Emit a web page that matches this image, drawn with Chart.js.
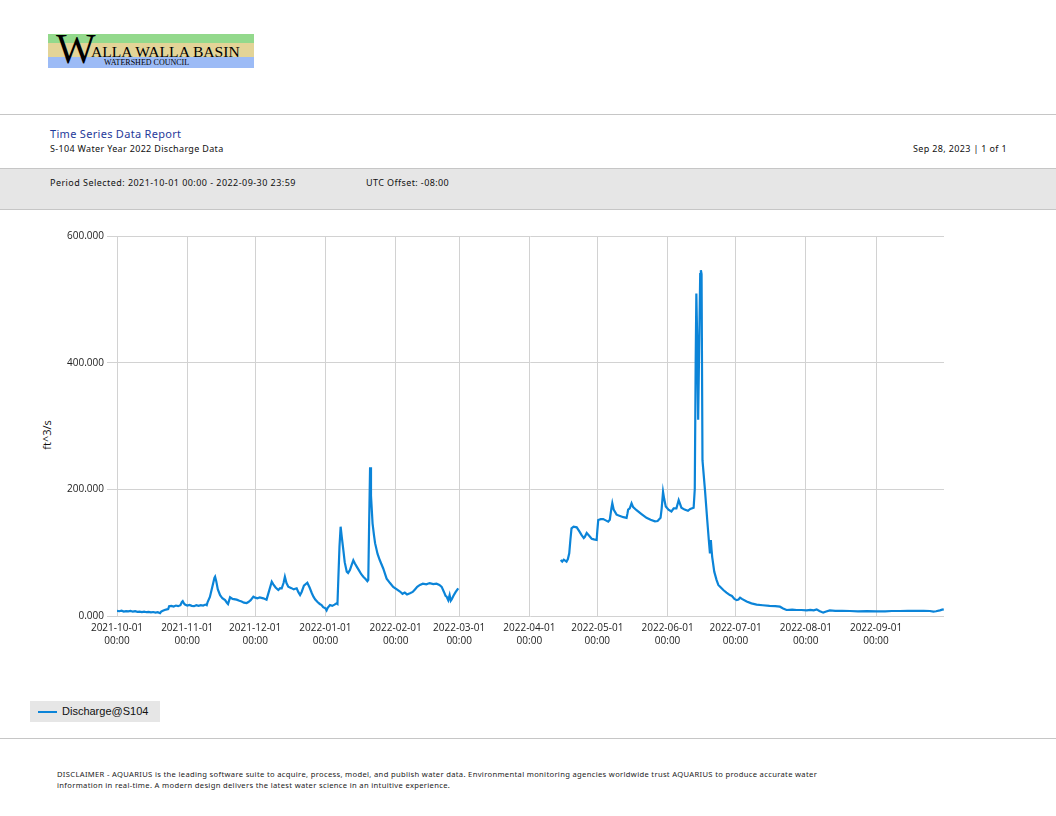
<!DOCTYPE html>
<html>
<head>
<meta charset="utf-8">
<script src="https://cdn.jsdelivr.net/npm/chart.js@4.4.0/dist/chart.umd.min.js"></script>
<style>
  html, body { margin:0; padding:0; background:#fff; }
  body { width:1056px; height:816px; position:relative; overflow:hidden; font-family:"Noto Sans", "Open Sans", sans-serif; }
  .abs { position:absolute; white-space:nowrap; }
  .hline { position:absolute; left:0; width:1056px; height:1px; background:#c6c6c6; }
</style>
</head>
<body>
<script>
// ---- Data (days since 2021-10-01 00:00, water-year 2022) ----
const seriesName = "Discharge@S104";
const unitLabel = "ft^3/s";
const tickLabels = ["2021-10-01","2021-11-01","2021-12-01","2022-01-01","2022-02-01","2022-03-01",
                    "2022-04-01","2022-05-01","2022-06-01","2022-07-01","2022-08-01","2022-09-01"];
const yTicks = [0, 200, 400, 600];
const dayOffsets = [
  0,1,2,3,4,5,6,7,8,9,10,11,12,13,14,15,16,17,18,19,19.5,20,21,22,22.6,23,24,25,26,27,28,28.6,29,29.5,30,31,
  32,33,34,35,36,37,38,39,39.6,40,41,42,43,43.3,43.8,44.5,45.5,46.5,47.7,48.5,49,49.9,51,52.8,54,55,56,57.2,58,59,
  60.2,61,62,63,64.6,66,67,68.3,69,70,71.2,72,72.7,73.5,74.1,74.8,75.6,77,78,79.3,80,80.8,81.5,82.5,84,85,86,86.7,
  87.5,88.5,89.5,90.3,91,92,92.5,93,94,95,96,96.9,97.3,97.7,98.2,98.7,99.2,99.9,100.5,101.4,102,102.8,103.5,104.3,
  105,105.8,106.8,107.8,108.7,109.8,110.5,110.9,111.3,111.7,112.1,112.8,113.4,113.9,115,116,117.5,119,120.5,121.9,
  123.5,124.9,126,127,128,129.3,130.5,131.5,132.5,133.7,135,136.5,138,139.6,141,142.3,143.3,144.3,145,145.5,146.2,
  146.8,147.3,147.7,148.5,149.5,150.6,
  173,
  195.8,196.5,197.2,198.4,199,199.6,200.1,200.6,201.5,202.9,204,205,206,206.5,207.3,208.3,209.5,210.5,211.7,212,
  212.4,213.5,214.6,215.7,216.8,217.5,218.2,218.6,219.2,220.5,222,223.5,224.9,225.3,225.6,226.3,227.1,227.8,229.3,
  231.5,233.7,235.5,237.4,238.6,239.9,240.4,241,241.5,242.2,243.4,244.7,245.7,246.9,247.9,249.1,250.5,252,253,254.5,
  255,255.4,255.7,256.1,256.5,257,257.4,257.7,258,258.4,259.5,260.5,261.2,261.7,262.1,262.4,262.7,263.6,264.6,265.4,
  266.5,267.6,269,270.5,271.4,272.5,273.5,274.3,275,275.8,277.9,280,282.3,285,288,290.5,292.6,294,295.5,298,300,302,
  304.4,306,307.5,308.8,310,311.7,313,314.6,317,320,323.5,327,331,335.3,339,342,345.5,349,352,356,358.8,360.3,361.5,
  363.2,364.2,364.9
];
const discharge = [
  8,7.5,8.5,7,7.8,7.2,8,6.8,7.5,6.5,7,6.2,6.8,6,6.5,5.8,6.3,5.5,6,4.5,7,8,9.5,10.5,11,15.5,16,15,16.5,15.5,17,22,23.5,20,18,16.5,
  17.5,16,15.5,17,16,17,16.5,18,17,22,30,45,60,62,55,42,33,28,25,21,19,29.5,27,25.8,24,23,21,20.5,22,25,
  30.5,29,28,29.5,27.9,25.8,38,54.2,50,45,41,44,43.7,52,62,52,46.3,44,42,43.7,38,33.2,38,48,52.6,45,36,30.5,
  26,22,19,17.4,14,12,9,13,17.4,16,18,20,19,60,110,141,125,104,85,70,68,72.6,80,88,
  83,78,72,66,62,58,55,57,150,235,190,146,128,115,98,88,75,59,52,46,
  42,38.6,35,37,34,36,38,42,46,49,51,50,52,50.5,51,49,46,38,32,30.5,25,
  33,24,26,32,38,43.7,
  null,
  88.4,86,89,86,90,99,120,138.5,141,140,134,128,123,125,131,127,122,121,120,135,
  151.6,153,153,151,149,152,170,178,168,160,158,156,155,162,168,170,178,172,167,
  161,155,152,149.5,150,155,170,196,185,173,168,165,170,170,183,171,168,166,169,171,
  200,400,509,430,310,440,540,546,540,246,199,151.6,120,99,120,105,93,70,57,49,
  45,41,37,33,31.6,27,25,26,29,27,23,20,18,17,16,15.5,14.7,12,9.5,10,9.5,9.5,
  8.9,9.8,9,10.5,8,5.3,7,8.9,8.2,8,7.9,7.2,7.8,7.4,7.3,7.9,7.9,8.3,8,8.2,7.9,6.9,7.5,
  8.9,10,10.5
];
</script>

<!-- Logo -->
<div class="abs" style="left:48px;top:34px;width:206px;height:9px;background:#93d98c;"></div>
<div class="abs" style="left:48px;top:43px;width:206px;height:14px;background:#e3d497;"></div>
<div class="abs" style="left:48px;top:57px;width:206px;height:11px;background:#9cbbf6;"></div>
<div class="abs" style="left:56px;top:28px;font-family:'Liberation Serif',serif;font-size:42px;line-height:42px;color:#000;">W</div>
<div class="abs" style="left:91px;top:43px;font-family:'Liberation Serif',serif;font-size:15.6px;line-height:17px;color:#000;">ALLA WALLA BASIN</div>
<div class="abs" style="left:104px;top:58px;font-family:'Liberation Serif',serif;font-size:8px;line-height:9px;color:#000;">WATERSHED COUNCIL</div>

<div class="hline" style="top:114px;"></div>

<!-- Header -->
<div class="abs" style="left:50px;top:127px;font-size:11px;line-height:14px;color:#1f3a9a;letter-spacing:0.3px;">Time Series Data Report</div>
<div class="abs" style="left:50px;top:143px;font-size:9px;line-height:12px;color:#111;letter-spacing:0.33px;">S-104 Water Year 2022 Discharge Data</div>
<div class="abs" style="right:49px;top:143px;font-size:9px;line-height:12px;color:#111;letter-spacing:0.35px;">Sep 28, 2023 | 1 of 1</div>

<div class="abs" style="left:0;top:168px;width:1056px;height:42px;background:#e6e6e6;border-top:1px solid #c6c6c6;border-bottom:1px solid #c6c6c6;box-sizing:border-box;"></div>
<div class="abs" style="left:50px;top:177px;font-size:9px;line-height:12px;color:#111;letter-spacing:0.45px;">Period Selected: 2021-10-01 00:00 - 2022-09-30 23:59</div>
<div class="abs" style="left:366px;top:177px;font-size:9px;line-height:12px;color:#111;letter-spacing:0.4px;">UTC Offset: -08:00</div>

<!-- Y axis title -->
<div class="abs" style="left:46px;top:435px;transform:translate(-50%,-50%) rotate(-90deg);font-family:'Open Sans',sans-serif;font-size:11px;color:#111;">ft^3/s</div>

<!-- Chart -->
<div class="abs" style="left:0;top:226px;width:1056px;height:440px;">
  <canvas id="c"></canvas>
</div>

<!-- Legend -->
<div class="abs" style="left:30px;top:701px;width:130px;height:21px;background:#e6e6e6;"></div>
<div class="abs" style="left:38px;top:711px;width:19px;height:2px;background:#0b84d8;"></div>
<div class="abs" style="left:62px;top:704px;font-family:'Liberation Sans',Arial,sans-serif;font-size:11px;line-height:14px;color:#111;" id="legendText"></div>

<div class="hline" style="top:738px;"></div>

<!-- Disclaimer -->
<div class="abs" style="left:57px;top:769px;font-size:7.6px;line-height:11px;color:#222;letter-spacing:0.33px;">DISCLAIMER - AQUARIUS is the leading software suite to acquire, process, model, and publish water data. Environmental monitoring agencies worldwide trust AQUARIUS to produce accurate water<br>information in real-time. A modern design delivers the latest water science in an intuitive experience.</div>

<script>
document.getElementById('legendText').textContent = seriesName;
const baseUTC = Date.UTC(2021, 9, 1);
const dayOf = s => { const p = s.split('-').map(Number); return (Date.UTC(p[0], p[1]-1, p[2]) - baseUTC) / 86400000; };
const tickDays = tickLabels.map(dayOf);
const points = dayOffsets.map((d, i) => ({ x: d, y: discharge[i] }));

new Chart(document.getElementById('c'), {
  type: 'line',
  data: {
    datasets: [{
      label: seriesName,
      data: points,
      borderColor: '#0b84d8',
      borderWidth: 2.2,
      pointRadius: 0,
      tension: 0,
      spanGaps: false,
      fill: false
    }]
  },
  options: {
    responsive: true,
    maintainAspectRatio: false,
    animation: false,
    layout: { padding: { top: 10, right: 112, left: 0, bottom: 0 } },
    plugins: { legend: { display: false }, tooltip: { enabled: false } },
    scales: {
      x: {
        type: 'linear',
        min: 0,
        max: 365,
        afterBuildTicks: s => { s.ticks = tickDays.map(v => ({ value: v })); },
        afterFit: s => { s.height = 50; },
        grid: { color: '#d2d2d2', drawTicks: false },
        border: { display: false },
        ticks: {
          autoSkip: false,
          maxRotation: 0,
          padding: 6,
          color: '#222',
          font: { family: 'Open Sans', size: 10, lineHeight: 1.3 },
          callback: (v) => { const i = tickDays.indexOf(v); return i >= 0 ? [tickLabels[i], '00:00'] : ''; }
        }
      },
      y: {
        min: 0,
        max: 600,
        afterBuildTicks: s => { s.ticks = yTicks.map(v => ({ value: v })); },
        afterFit: s => { s.width = 117; },
        grid: { color: '#d2d2d2', tickLength: 10 },
        border: { display: false },
        ticks: {
          padding: 3,
          color: '#222',
          font: { family: 'Open Sans', size: 10 },
          callback: v => Number(v).toFixed(3)
        }
      }
    }
  }
});
</script>
</body>
</html>
